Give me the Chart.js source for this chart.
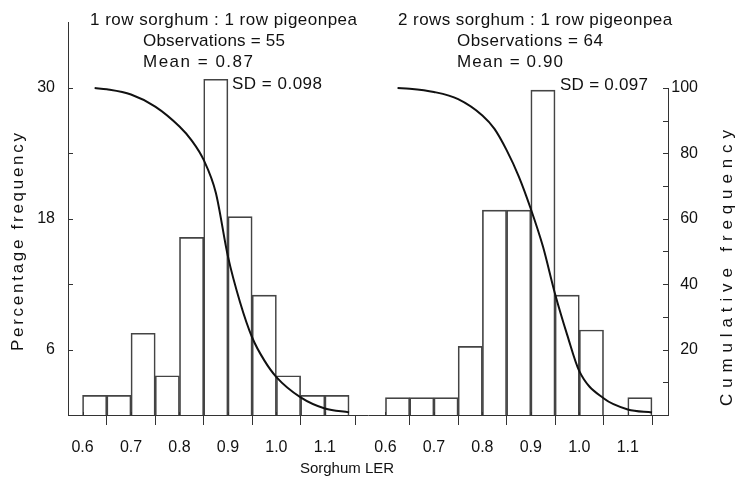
<!DOCTYPE html>
<html><head><meta charset="utf-8">
<script src="https://cdn.jsdelivr.net/npm/chart.js@4.4.1/dist/chart.umd.min.js"></script>
<style>html,body{margin:0;padding:0;background:#fff}#wrap{width:735px;height:480px;position:relative}</style>
</head><body><div id="wrap"><canvas id="c"></canvas></div>
<script>
// ---- data ----
const binCenters = [0.625,0.675,0.725,0.775,0.825,0.875,0.925,0.975,1.025,1.075,1.125];
const pctOneRow  = [1.8,1.8,7.5,3.6,16.3,30.8,18.2,11.0,3.6,1.8,1.8];
const pctTwoRows = [1.6,1.6,1.6,6.3,18.8,18.8,29.8,11.0,7.8,0,1.6];
const cumLER     = [0.625,0.65,0.7,0.75,0.8,0.825,0.85,0.875,0.9,0.925,0.95,0.975,1.0,1.05,1.1,1.15];
const cumOneRow  = [100,99.6,98.0,94.3,88.2,84.0,78.0,68.0,48.5,34.5,23.7,16.7,11.6,5.4,2.0,0.8];
const cumTwoRows = [100,99.8,98.8,96.6,91.6,87.5,81.0,73.0,63.0,51.5,37.0,24.5,13.4,5.1,1.7,0.8];
const xTickValues = [0.6,0.7,0.8,0.9,1.0,1.1];
const xTickLabels = ['0.6','0.7','0.8','0.9','1.0','1.1'];
const pctTicks = [6,12,18,24,30];
const pctTickLabels = ['6','','18','','30'];
const cumTicks = [10,20,30,40,50,60,70,80,90,100];
const cumTickLabels = ['','20','','40','','60','','80','','100'];
const panelTitles = ['1 row sorghum : 1 row pigeonpea','2 rows sorghum : 1 row pigeonpea'];
const observations = [55,64];
const means = ['0.87','0.90'];
const sds = ['0.098','0.097'];
const xTitle = 'Sorghum LER';
const yTitle = 'Percentage frequency';
const y1Title = 'Cumulative frequency';

// ---- layout (not data) ----
const panelShift = 0.625;
const FONT = '"Liberation Sans", Arial, Helvetica, sans-serif';
const INK = '#111';
const textLayout = [
  {title:[90,20,267], obs:[143,41,142], mean:[143,62,110], sd:[232,84,90]},
  {title:[398,20,274], obs:[457,41,146], mean:[457,62,106], sd:[560,85,88]}
];
const allXTicks = xTickValues.concat(xTickValues.map(v => v + panelShift));

function fitText(ctx, text, x, y, size, targetW, align) {
  ctx.font = size + 'px ' + FONT;
  if ('letterSpacing' in ctx) ctx.letterSpacing = '0px';
  const w0 = ctx.measureText(text).width;
  let w = w0;
  if (targetW && 'letterSpacing' in ctx && text.length > 1) {
    const sp = (targetW - w0) / (text.length - 1);
    ctx.letterSpacing = sp.toFixed(2) + 'px';
    w = targetW;
  }
  ctx.textAlign = 'left';
  ctx.textBaseline = 'middle';
  const sx = align === 'center' ? x - w / 2 : x;
  ctx.fillText(text, sx, y);
  if ('letterSpacing' in ctx) ctx.letterSpacing = '0px';
}

const decorPlugin = {
  id: 'decor',
  afterDraw(chart) {
    const ctx = chart.ctx;
    const ca = chart.chartArea;
    const xs = chart.scales.x, ys = chart.scales.y, y1s = chart.scales.y1;
    ctx.save();
    ctx.strokeStyle = '#333';
    ctx.lineWidth = 1;
    // right axis line (0..100 only)
    ctx.beginPath();
    ctx.moveTo(ca.right + 0.5, y1s.getPixelForValue(0));
    ctx.lineTo(ca.right + 0.5, y1s.getPixelForValue(100));
    ctx.stroke();
    // inward ticks
    ctx.beginPath();
    pctTicks.forEach(v => {
      const py = Math.round(ys.getPixelForValue(v)) + 0.5;
      ctx.moveTo(ca.left, py); ctx.lineTo(ca.left + 5, py);
    });
    cumTicks.forEach(v => {
      const py = Math.round(y1s.getPixelForValue(v)) + 0.5;
      ctx.moveTo(ca.right + 1, py); ctx.lineTo(ca.right - 5, py);
    });
    allXTicks.forEach(v => {
      const px = Math.round(xs.getPixelForValue(v)) + 0.5;
      ctx.moveTo(px, ca.bottom); ctx.lineTo(px, ca.bottom - 3);
    });
    ctx.stroke();
    // texts
    ctx.fillStyle = INK;
    textLayout.forEach((L, p) => {
      fitText(ctx, panelTitles[p], L.title[0], L.title[1], 17, L.title[2], 'left');
      fitText(ctx, 'Observations = ' + observations[p], L.obs[0], L.obs[1], 17, L.obs[2], 'left');
      fitText(ctx, 'Mean = ' + means[p], L.mean[0], L.mean[1], 17, L.mean[2], 'left');
      fitText(ctx, 'SD = ' + sds[p], L.sd[0], L.sd[1], 17, L.sd[2], 'left');
    });
    fitText(ctx, xTitle, 347, 469, 15, null, 'center');
    ctx.save();
    ctx.translate(18, 242); ctx.rotate(-Math.PI / 2);
    fitText(ctx, yTitle, 0, 0, 17, 218, 'center');
    ctx.restore();
    ctx.save();
    ctx.translate(727, 268); ctx.rotate(-Math.PI / 2);
    fitText(ctx, y1Title, 0, 0, 17, 276, 'center');
    ctx.restore();
    ctx.restore();
  }
};

const barStyle = {
  type: 'bar', yAxisID: 'y', order: 2, grouped: false,
  backgroundColor: 'rgba(255,255,255,0)', borderColor: '#444', borderWidth: 1,
  barPercentage: 1, categoryPercentage: 1, borderSkipped: 'start'
};
const lineStyle = {
  type: 'line', yAxisID: 'y1', order: 1, borderColor: '#111', borderWidth: 2,
  pointRadius: 0, fill: false, cubicInterpolationMode: 'monotone'
};

new Chart(document.getElementById('c'), {
  type: 'bar',
  data: {
    datasets: [
      Object.assign({ data: binCenters.map((x, i) => ({x: x, y: pctOneRow[i]})) }, barStyle),
      Object.assign({ data: binCenters.map((x, i) => ({x: x + panelShift, y: pctTwoRows[i]})) }, barStyle),
      Object.assign({ data: cumLER.map((x, i) => ({x: x, y: cumOneRow[i]})) }, lineStyle),
      Object.assign({ data: cumLER.map((x, i) => ({x: x + panelShift, y: cumTwoRows[i]})) }, lineStyle)
    ]
  },
  options: {
    responsive: true, maintainAspectRatio: false, animation: false,
    layout: { padding: { top: 19, left: 0, right: 37, bottom: 0 } },
    plugins: { legend: { display: false }, tooltip: { enabled: false } },
    scales: {
      x: {
        type: 'linear', min: 0.57, max: 1.808, offset: false,
        afterBuildTicks: s => { s.ticks = allXTicks.map(v => ({value: v})); },
        afterFit: s => { s.height = 65; },
        ticks: { autoSkip: false, maxRotation: 0, padding: 13, color: INK,
          font: { family: FONT, size: 16 },
          callback: (v, i) => xTickLabels[i % xTickLabels.length] },
        grid: { display: true, drawOnChartArea: false, drawTicks: true, tickLength: 10, color: '#333' },
        border: { display: true, color: '#333', width: 1 }
      },
      y: {
        position: 'left', min: 0, max: 36,
        afterBuildTicks: s => { s.ticks = pctTicks.map(v => ({value: v})); },
        afterFit: s => { s.width = 68; },
        ticks: { padding: 13, color: INK, font: { family: FONT, size: 16 },
          callback: (v, i) => pctTickLabels[i] },
        grid: { display: false, drawTicks: false },
        border: { display: true, color: '#333', width: 1 }
      },
      y1: {
        position: 'right', min: 0, max: 120,
        afterBuildTicks: s => { s.ticks = cumTicks.map(v => ({value: v})); },
        afterFit: s => { s.width = 30; },
        ticks: { padding: 3, crossAlign: 'far', color: INK, font: { family: FONT, size: 16 },
          callback: (v, i) => cumTickLabels[i] },
        grid: { display: false, drawTicks: false },
        border: { display: false }
      }
    }
  },
  plugins: [decorPlugin]
});
</script></body></html>
